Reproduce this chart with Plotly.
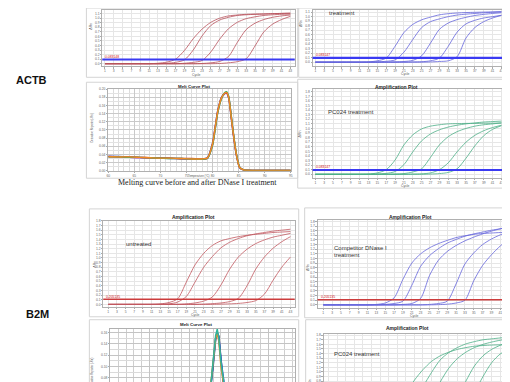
import plotly.graph_objects as go

W, H = 510, 382

# ---------------- data ----------------
CYCLES = list(range(1, 44, 2))
CYCLE_TICKS = list(range(1, 44, 2))

ACTB_UNTREATED = [
    [0, 0, 0, 0, 0, 0, 0.01, 0.035, 0.10, 0.29, 0.55, 0.76, 0.91, 1.00, 1.05, 1.07, 1.085, 1.09, 1.095, 1.10, 1.105, 1.11],
    [0, 0, 0, 0, 0, 0, 0, 0.01, 0.03, 0.085, 0.30, 0.61, 0.84, 0.96, 1.02, 1.06, 1.075, 1.085, 1.09, 1.10, 1.105, 1.11],
    [0, 0, 0, 0, 0, 0, 0, 0, 0, 0.01, 0.03, 0.07, 0.26, 0.54, 0.77, 0.91, 0.99, 1.03, 1.06, 1.075, 1.085, 1.09],
    [0, 0, 0, 0, 0, 0, 0, 0, 0, 0, 0, 0.005, 0.02, 0.05, 0.16, 0.47, 0.75, 0.89, 0.97, 1.02, 1.05, 1.07],
    [0, 0, 0, 0, 0, 0, 0, 0, 0, 0, 0, 0, 0, 0.005, 0.02, 0.045, 0.11, 0.39, 0.70, 0.87, 0.97, 1.04],
]
ACTB_COMPETITOR = [
    [0, 0, 0, 0, 0, 0, 0.005, 0.03, 0.09, 0.35, 0.65, 0.83, 0.93, 0.99, 1.04, 1.065, 1.08, 1.09, 1.095, 1.10, 1.105, 1.11],
    [0, 0, 0, 0, 0, 0, 0, 0.005, 0.02, 0.05, 0.22, 0.50, 0.76, 0.89, 0.95, 1.00, 1.035, 1.055, 1.07, 1.085, 1.095, 1.105],
    [0, 0, 0, 0, 0, 0, 0, 0, 0, 0.005, 0.015, 0.04, 0.14, 0.42, 0.72, 0.86, 0.935, 0.985, 1.025, 1.05, 1.07, 1.085],
    [0, 0, 0, 0, 0, 0, 0, 0, 0, 0, 0, 0.005, 0.01, 0.03, 0.09, 0.35, 0.66, 0.84, 0.92, 0.97, 1.00, 1.03],
    [0, 0, 0, 0, 0, 0, 0, 0, 0, 0, 0, 0, 0, 0.005, 0.015, 0.03, 0.12, 0.53, 0.76, 0.89, 0.97, 1.03],
]
ACTB_PC024 = [
    [0, 0, 0, 0, 0, 0, 0.005, 0.03, 0.10, 0.31, 0.64, 0.86, 0.99, 1.05, 1.08, 1.10, 1.105, 1.11, 1.11, 1.115, 1.115, 1.12],
    [0, 0, 0, 0, 0, 0, 0, 0.005, 0.02, 0.06, 0.21, 0.49, 0.73, 0.88, 0.97, 1.03, 1.07, 1.10, 1.12, 1.14, 1.15, 1.16],
    [0, 0, 0, 0, 0, 0, 0, 0, 0, 0.005, 0.015, 0.05, 0.12, 0.37, 0.64, 0.82, 0.93, 1.00, 1.05, 1.08, 1.10, 1.12],
    [0, 0, 0, 0, 0, 0, 0, 0, 0, 0, 0, 0.005, 0.01, 0.03, 0.10, 0.25, 0.49, 0.70, 0.85, 0.95, 1.02, 1.07],
    [0, 0, 0, 0, 0, 0, 0, 0, 0, 0, 0, 0, 0, 0.005, 0.015, 0.04, 0.12, 0.35, 0.62, 0.84, 0.98, 1.06],
]
B2M_UNTREATED = [
    [0, 0, 0, 0, 0, 0, 0.01, 0.04, 0.12, 0.48, 0.85, 1.10, 1.27, 1.37, 1.42, 1.46, 1.49, 1.51, 1.53, 1.55, 1.56, 1.57],
    [0, 0, 0, 0, 0, 0, 0, 0.01, 0.05, 0.17, 0.48, 0.80, 1.03, 1.22, 1.34, 1.42, 1.48, 1.52, 1.55, 1.58, 1.60, 1.62],
    [0, 0, 0, 0, 0, 0, 0, 0, 0, 0.01, 0.03, 0.07, 0.16, 0.42, 0.76, 1.02, 1.19, 1.31, 1.39, 1.45, 1.49, 1.53],
    [0, 0, 0, 0, 0, 0, 0, 0, 0, 0, 0, 0.005, 0.015, 0.03, 0.06, 0.13, 0.40, 0.76, 1.02, 1.21, 1.35, 1.46],
    [0, 0, 0, 0, 0, 0, 0, 0, 0, 0, 0, 0, 0, 0.005, 0.01, 0.02, 0.04, 0.08, 0.22, 0.52, 0.80, 1.02],
]
B2M_COMPETITOR = [
    [0, 0, 0, 0, 0, 0, 0.01, 0.04, 0.15, 0.55, 0.90, 1.10, 1.23, 1.32, 1.39, 1.45, 1.49, 1.52, 1.54, 1.55, 1.56, 1.57],
    [0, 0, 0, 0, 0, 0, 0, 0.01, 0.03, 0.08, 0.42, 0.83, 1.06, 1.21, 1.33, 1.41, 1.48, 1.53, 1.57, 1.61, 1.64, 1.67],
    [0, 0, 0, 0, 0, 0, 0, 0, 0, 0.01, 0.03, 0.14, 0.63, 0.96, 1.15, 1.28, 1.38, 1.46, 1.53, 1.59, 1.64, 1.70],
    [0, 0, 0, 0, 0, 0, 0, 0, 0, 0, 0, 0, 0.01, 0.03, 0.08, 0.45, 0.88, 1.12, 1.30, 1.42, 1.51, 1.58],
    [0, 0, 0, 0, 0, 0, 0, 0, 0, 0, 0, 0, 0, 0.005, 0.015, 0.04, 0.10, 0.52, 0.85, 1.08, 1.27, 1.42],
]
B2M_PC024 = [
    [0, 0, 0, 0, 0, 0, 0.01, 0.04, 0.14, 0.52, 0.82, 1.05, 1.23, 1.35, 1.43, 1.49, 1.53, 1.56, 1.575, 1.585, 1.59, 1.59],
    [0, 0, 0, 0, 0, 0, 0, 0.01, 0.03, 0.10, 0.36, 0.68, 0.99, 1.26, 1.42, 1.53, 1.61, 1.66, 1.70, 1.72, 1.74, 1.76],
    [0, 0, 0, 0, 0, 0, 0, 0, 0, 0.01, 0.03, 0.11, 0.43, 0.78, 1.08, 1.29, 1.43, 1.53, 1.60, 1.65, 1.69, 1.72],
    [0, 0, 0, 0, 0, 0, 0, 0, 0, 0, 0, 0, 0.01, 0.03, 0.12, 0.43, 0.80, 1.13, 1.35, 1.49, 1.58, 1.66],
    [0, 0, 0, 0, 0, 0, 0, 0, 0, 0, 0, 0, 0, 0, 0.01, 0.03, 0.15, 0.55, 0.90, 1.20, 1.39, 1.50],
]

ACTB_THRESHOLD = 0.093
B2M_THRESHOLD = 0.11

MELT_TEMPS_ACTB = [60, 62, 64, 66, 68, 70, 72, 74, 76, 78, 79, 80, 80.5, 81, 81.7, 82.3, 82.7, 83.1, 83.6, 84.1, 84.6, 85.2, 86, 88, 91, 95]
ACTB_MELT = [
    [0.036, 0.035, 0.034, 0.033, 0.032, 0.032, 0.031, 0.030, 0.029, 0.029, 0.032, 0.068, 0.108, 0.148, 0.180, 0.189, 0.190, 0.178, 0.127, 0.077, 0.036, 0.007, 0.002, 0.001, 0.001, 0.001],
    [0.035, 0.034, 0.033, 0.032, 0.032, 0.031, 0.030, 0.029, 0.029, 0.028, 0.030, 0.063, 0.102, 0.143, 0.177, 0.188, 0.191, 0.181, 0.132, 0.081, 0.039, 0.009, 0.002, 0.001, 0.001, 0.001],
    [0.034, 0.034, 0.034, 0.033, 0.032, 0.031, 0.031, 0.030, 0.030, 0.029, 0.031, 0.066, 0.106, 0.146, 0.179, 0.190, 0.191, 0.179, 0.129, 0.079, 0.037, 0.008, 0.002, 0.001, 0.001, 0.001],
    [0.034, 0.034, 0.033, 0.033, 0.032, 0.031, 0.030, 0.030, 0.029, 0.028, 0.030, 0.062, 0.100, 0.142, 0.176, 0.191, 0.194, 0.183, 0.134, 0.083, 0.040, 0.009, 0.002, 0.001, 0.001, 0.001],
    [0.035, 0.034, 0.034, 0.033, 0.032, 0.031, 0.031, 0.030, 0.029, 0.029, 0.031, 0.065, 0.105, 0.145, 0.178, 0.190, 0.192, 0.180, 0.130, 0.080, 0.038, 0.008, 0.002, 0.001, 0.001, 0.001],
]
MELT_TEMPS_B2M = [60, 70, 76, 78, 78.5, 79, 79.5, 80, 80.3, 80.6, 81, 81.4, 81.8, 82.5, 84, 90, 95]
B2M_MELT = [
    [0.030, 0.029, 0.029, 0.033, 0.042, 0.058, 0.098, 0.148, 0.159, 0.154, 0.115, 0.072, 0.036, 0.012, 0.002, 0.001, 0.001],
    [0.030, 0.029, 0.029, 0.034, 0.042, 0.058, 0.100, 0.150, 0.160, 0.152, 0.112, 0.068, 0.035, 0.011, 0.002, 0.001, 0.001],
    [0.030, 0.029, 0.029, 0.035, 0.045, 0.062, 0.105, 0.150, 0.158, 0.145, 0.100, 0.060, 0.030, 0.010, 0.002, 0.001, 0.001],
    [0.030, 0.029, 0.029, 0.034, 0.044, 0.060, 0.103, 0.155, 0.166, 0.150, 0.108, 0.064, 0.032, 0.010, 0.002, 0.001, 0.001],
]

ACTB_MELT_COLORS = ["#3b55c8", "#9a48b0", "#d2403a", "#2fae6a", "#f08a24"]
B2M_MELT_COLORS = ["#1f2f8f", "#3050d0", "#f08a24", "#2fb59a"]

FONT = "Liberation Sans, Arial, sans-serif"

# ---------------- helpers ----------------
fig = go.Figure()
layout = {}
annotations = []
shapes = []


def fx(px):
    return px / W


def fy(py):
    return 1 - py / H


def ann(text, x, y, size, color="#333", xanchor="center", angle=0, family=FONT, yanchor="middle"):
    annotations.append(dict(text=text, x=fx(x), y=fy(y), xref="paper", yref="paper",
                            showarrow=False, xanchor=xanchor, yanchor=yanchor, textangle=angle,
                            font=dict(size=size, color=color, family=family)))


def box(x0, y0, x1, y1, color="#d4d4d4"):
    shapes.append(dict(type="rect", xref="paper", yref="paper", x0=fx(x0), x1=fx(x1),
                       y0=fy(y1), y1=fy(y0), line=dict(color=color, width=1), layer="below"))


def setup_axes(n, bbox, xr, yr, xopts, yopts):
    x0, y0, x1, y1 = bbox
    key = "" if n == 1 else str(n)
    base = dict(showline=True, mirror=True, linecolor="#b0b0b0", linewidth=0.8,
                ticks="outside", ticklen=1.2, tickcolor="#aaa", tickwidth=0.5,
                tickfont=dict(size=3.3, color="#666", family=FONT), zeroline=False,
                showgrid=True)
    xa = dict(base, domain=[max(0, fx(x0)), min(1, fx(x1))], range=list(xr), anchor="y" + key)
    xa.update(xopts)
    ya = dict(base, domain=[max(0, fy(y1)), min(1, fy(y0))], range=list(yr), anchor="x" + key)
    ya.update(yopts)
    layout["xaxis" + key] = xa
    layout["yaxis" + key] = ya
    return "x" + key, "y" + key


AMP_PANELS = [
    dict(n=1, data=ACTB_UNTREATED, color="#b8505a", bbox=(93, 0, 287, 57), xr=(0.39, 44.0),
         yr=(-0.059, 1.180), thr=ACTB_THRESHOLD, thr_color="#3a3af2", thr_w=2.2, thr_label="0.083148", xlab=True),
    dict(n=2, data=ACTB_COMPETITOR, color="#6464dc", bbox=(305, 0, 498, 57), xr=(0.39, 43.6),
         yr=(-0.093, 1.146), thr=ACTB_THRESHOLD, thr_color="#3a3af2", thr_w=2.2, thr_label="0.083147", xlab=True),
    dict(n=4, data=ACTB_PC024, color="#4caf86", bbox=(305, 80, 498, 170), xr=(0.39, 43.6),
         yr=(-0.086, 1.857), thr=ACTB_THRESHOLD, thr_color="#3a3af2", thr_w=2.2, thr_label="0.083147", xlab=True),
    dict(n=5, data=B2M_UNTREATED, color="#c25860", bbox=(94, 213, 287, 300), xr=(-0.15, 44.0),
         yr=(-0.054, 1.803), thr=B2M_THRESHOLD, thr_color="#cc3c3c", thr_w=1.4, thr_label="0.205135", xlab=True),
    dict(n=6, data=B2M_COMPETITOR, color="#6666dc", bbox=(310, 212, 508, 301), xr=(-0.28, 44.1),
         yr=(-0.064, 1.835), thr=B2M_THRESHOLD, thr_color="#cc3c3c", thr_w=1.4, thr_label="0.205135", xlab=True),
    dict(n=8, data=B2M_PC024, color="#4caf86", bbox=(316, 327, 507, 382), xr=(-0.2, 44.0),
         yr=(0.651, 1.835), thr=B2M_THRESHOLD, thr_color="#cc3c3c", thr_w=1.4, thr_label="0.205135", xlab=False),
]

for p in AMP_PANELS:
    xopts = dict(tickvals=CYCLE_TICKS, gridcolor="#e6e6e6", gridwidth=0.6)
    if not p["xlab"]:
        xopts.update(showticklabels=False, ticks="")
    xk, yk = setup_axes(
        p["n"], p["bbox"], p["xr"], p["yr"], xopts,
        dict(dtick=0.1, tick0=0, tickformat=".1f", gridcolor="#e6e6e6", gridwidth=0.6),
    )
    for series in p["data"]:
        fig.add_trace(go.Scatter(x=CYCLES, y=series, xaxis=xk, yaxis=yk, mode="lines",
                                 line=dict(color=p["color"], width=0.8, shape="spline", smoothing=0.8),
                                 showlegend=False, hoverinfo="skip"))
    shapes.append(dict(type="line", xref=xk + " domain", yref=yk, x0=0, x1=1,
                       y0=p["thr"], y1=p["thr"], line=dict(color=p["thr_color"], width=p["thr_w"])))
    x0, y0, x1, y1 = p["bbox"]
    ypx = y1 - (p["thr"] - p["yr"][0]) / (p["yr"][1] - p["yr"][0]) * (y1 - y0)
    ann(p["thr_label"], x0 + 1, ypx - 2.6, 3.4, color="#d01010", xanchor="left")

# ---------------- melt curves ----------------
xk, yk = setup_axes(3, (99, 80, 283, 162.5), (60, 95), (0, 0.2),
                    dict(dtick=5, tick0=60, gridcolor="#c9c9c9", gridwidth=0.6,
                         minor=dict(dtick=1, showgrid=True, gridcolor="#dcdcdc", gridwidth=0.5)),
                    dict(dtick=0.02, tick0=0, tickformat=".2f", gridcolor="#c9c9c9", gridwidth=0.6,
                         minor=dict(dtick=0.01, showgrid=True, gridcolor="#e2e2e2", gridwidth=0.5)))
for series, c in zip(ACTB_MELT, ACTB_MELT_COLORS):
    fig.add_trace(go.Scatter(x=MELT_TEMPS_ACTB, y=series, xaxis=xk, yaxis=yk, mode="lines",
                             line=dict(color=c, width=1.4, shape="spline", smoothing=0.6),
                             showlegend=False, hoverinfo="skip"))

xk, yk = setup_axes(7, (101, 322, 287, 382), (60, 95), (0.062, 0.167),
                    dict(dtick=7.5, tick0=60, gridcolor="#c4c4c4", gridwidth=0.6, showticklabels=False, ticks="",
                         minor=dict(dtick=1.5, showgrid=True, gridcolor="#cfcfcf", gridwidth=0.6)),
                    dict(dtick=0.02, tick0=0, tickformat=".2f", gridcolor="#c4c4c4", gridwidth=0.6,
                         minor=dict(dtick=0.01, showgrid=True, gridcolor="#dadada", gridwidth=0.5)))
for series, c in zip(B2M_MELT, B2M_MELT_COLORS):
    fig.add_trace(go.Scatter(x=MELT_TEMPS_B2M, y=series, xaxis=xk, yaxis=yk, mode="lines",
                             line=dict(color=c, width=1.5), showlegend=False, hoverinfo="skip"))

# ---------------- panel frames ----------------
box(77, -2, 290, 68)
box(291, -2, 501, 68)
box(77, 73, 290, 170)
box(290, 70, 502, 180)
box(80, 201, 291, 310)
box(297, 200, 511, 311)
box(80, 313, 291, 384)
box(298, 313, 511, 384)

# ---------------- texts ----------------
ann("<b>ACTB</b>", 22, 70.5, 11, color="#111")
ann("<b>B2M</b>", 27.5, 307, 11, color="#111")

ann("ΔRn", 81.5, 16, 3.6, angle=-90, color="#555")
ann("Cycle", 188, 65.5, 3.4, color="#555")
ann("ΔRn", 293.5, 14, 3.6, angle=-90, color="#555")
ann("Cycle", 399, 65, 3.4, color="#555")
ann("treatment", 320, 3.5, 6, xanchor="left", color="#333")

ann("<b>Melt Curve Plot</b>", 185, 77, 4.4, color="#222")
ann("Derivative Reporter (-Rn')", 82.5, 119, 2.6, angle=-90, color="#555")
ann("Temperature (°C)", 190, 167.6, 2.8, color="#555")
ann("Melting curve before and after DNase I treatment", 188.5, 174.2, 8,
    color="#222", family="Liberation Serif, Times New Roman, serif")

ann("<b>Amplification Plot</b>", 390, 78, 5, color="#222")
ann("ΔRn", 292, 125, 3.6, angle=-90, color="#555")
ann("Cycle", 399, 177.6, 3.4, color="#555")
ann("PC024 treatment", 318, 103, 6, xanchor="left", color="#333")

ann("<b>Amplification Plot</b>", 184.5, 209.5, 5, color="#222")
ann("ΔRn", 86, 257, 3.6, angle=-90, color="#555")
ann("Cycle", 187, 308, 3.4, color="#555")
ann("untreated", 115, 236, 6, xanchor="left", color="#333")

ann("<b>Amplification Plot</b>", 403.5, 209, 5, color="#222")
ann("ΔRn", 301, 260, 3.6, angle=-90, color="#555")
ann("Cycle", 408, 309.3, 3.4, color="#555")
ann("Competitor DNase I", 325, 240.5, 6, xanchor="left", color="#333")
ann("treatment", 325, 247.5, 6, xanchor="left", color="#333")

ann("<b>Melt Curve Plot</b>", 187, 318.3, 4.4, color="#222")
ann("Derivative Reporter (-Rn')", 82.5, 366, 2.6, angle=-90, color="#555")

ann("<b>Amplification Plot</b>", 400.5, 321, 5, color="#222")
ann("ΔRn", 302.5, 377, 3.6, angle=-90, color="#555")
ann("PC024 treatment", 325, 347.5, 6, xanchor="left", color="#333")

fig.update_layout(
    width=W, height=H, margin=dict(l=0, r=0, t=0, b=0),
    paper_bgcolor="white", plot_bgcolor="white",
    font=dict(family=FONT), showlegend=False,
    annotations=annotations, shapes=shapes, **layout,
)
fig.write_html("out.html")
